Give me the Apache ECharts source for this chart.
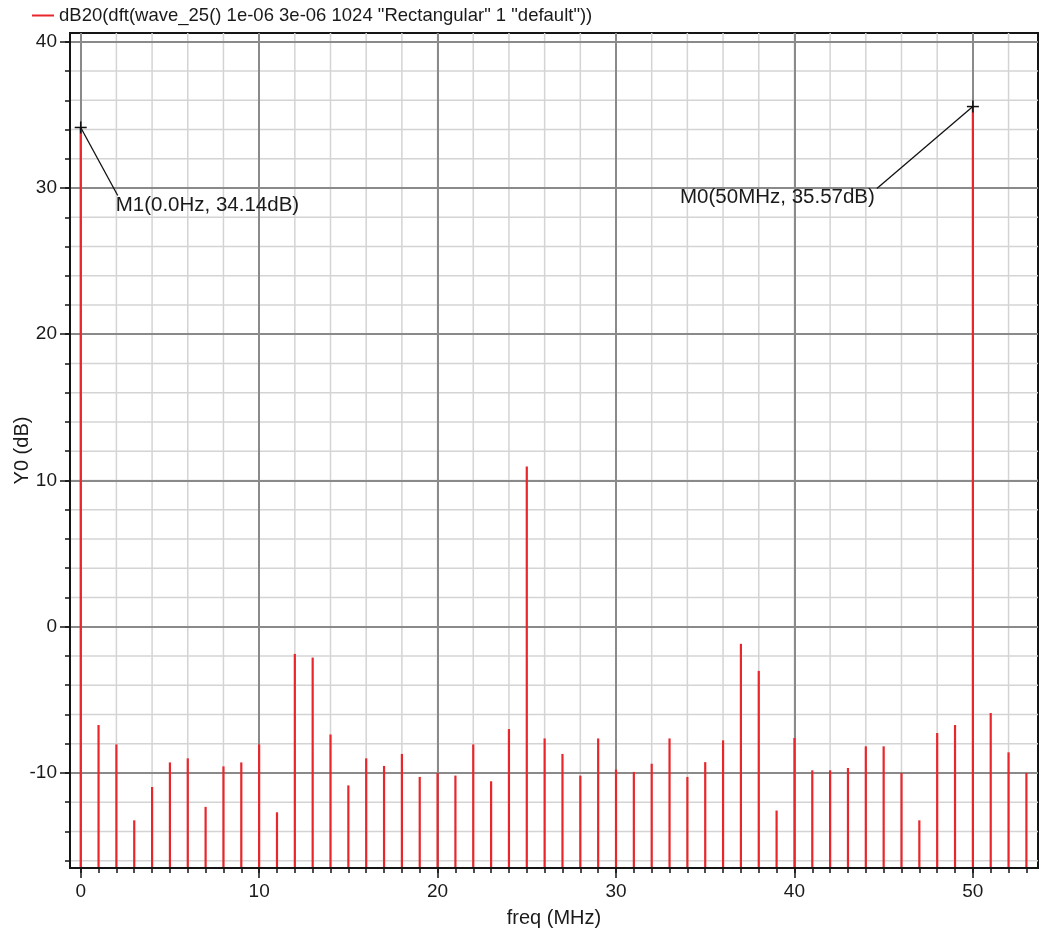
<!DOCTYPE html>
<html>
<head>
<meta charset="utf-8">
<script src="https://cdn.jsdelivr.net/npm/echarts@6/dist/echarts.min.js"></script>
<style>
  html, body { margin: 0; padding: 0; background: #ffffff; }
  #chart { width: 1042px; height: 934px; }
</style>
</head>
<body>
<div id="chart"></div>
<script>
// DFT of wave_25: one magnitude (dB) per 1 MHz bin
const freqMHz = [
  0, 1, 2, 3, 4, 5, 6, 7, 8, 9,
  10, 11, 12, 13, 14, 15, 16, 17, 18, 19,
  20, 21, 22, 23, 24, 25, 26, 27, 28, 29,
  30, 31, 32, 33, 34, 35, 36, 37, 38, 39,
  40, 41, 42, 43, 44, 45, 46, 47, 48, 49,
  50, 51, 52, 53
];
const magDB = [
  34.14, -6.72, -8.05, -13.24, -10.96, -9.28, -9.00, -12.32, -9.55, -9.28,
  -8.05, -12.69, -1.86, -2.11, -7.37, -10.85, -9.00, -9.52, -8.70, -10.27,
  -10.00, -10.18, -8.05, -10.57, -7.00, 10.95, -7.64, -8.70, -10.18, -7.64,
  -9.77, -9.93, -9.37, -7.64, -10.27, -9.26, -7.77, -1.17, -3.02, -12.57,
  -7.61, -9.82, -9.82, -9.66, -8.18, -8.18, -10.00, -13.24, -7.27, -6.72,
  35.57, -5.90, -8.59, -10.00
];
const seriesName = 'dB20(dft(wave_25() 1e-06 3e-06 1024 "Rectangular" 1 "default"))';

// Axis ticks and grid lines
const xLabelTicks = [0, 10, 20, 30, 40, 50];
const xSmallTicks = [
  0, 1, 2, 3, 4, 5, 6, 7, 8, 9, 10, 11, 12, 13, 14, 15, 16, 17, 18, 19, 20,
  21, 22, 23, 24, 25, 26, 27, 28, 29, 30, 31, 32, 33, 34, 35, 36, 37, 38, 39, 40,
  41, 42, 43, 44, 45, 46, 47, 48, 49, 50, 51, 52, 53
];
const xMinorGrid = [0, 2, 4, 6, 8, 10, 12, 14, 16, 18, 20, 22, 24, 26, 28, 30,
  32, 34, 36, 38, 40, 42, 44, 46, 48, 50, 52];
const yLabelTicks = [-10, 0, 10, 20, 30, 40];
const ySmallTicks = [-16, -14, -12, -10, -8, -6, -4, -2, 0, 2, 4, 6, 8, 10, 12, 14,
  16, 18, 20, 22, 24, 26, 28, 30, 32, 34, 36, 38, 40];

// Markers placed on spectrum bins
const markerNames = ['M1', 'M0'];
const markerBins = [0, 50];
const markerFreqText = ['0.0Hz', '50MHz'];

// Axis ranges
const xMin = -0.6, xMax = 53.65;
const yMin = -16.5, yMax = 40.6;

// Callout geometry (pixel offsets from the marker point)
const calloutLayout = [
  { dx: 37, dy: 68, tx: -2, ty: 10, align: 'left' },
  { dx: -96, dy: 82, tx: -2, ty: 9, align: 'right' }
];

const FONT = '"Liberation Sans", Arial, Helvetica, sans-serif';
const TEXT_COLOR = '#1a1a1a';
const FRAME = '#151515';
const MINOR_GRID = '#d4d4d4';
const MAJOR_GRID = '#8a8a8a';

const barData = freqMHz.map((f, i) => [f, magDB[i]]);
const markerData = markerBins.map(b => [freqMHz[b], magDB[b]]);

function xAxisBase(extra) {
  return Object.assign({
    type: 'value', min: xMin, max: xMax, position: 'bottom',
    axisLine: { show: false, onZero: false }, axisTick: { show: false },
    axisLabel: { show: false }, splitLine: { show: false }
  }, extra);
}
function yAxisBase(extra) {
  return Object.assign({
    type: 'value', min: yMin, max: yMax, position: 'left',
    axisLine: { show: false, onZero: false }, axisTick: { show: false },
    axisLabel: { show: false }, splitLine: { show: false }
  }, extra);
}

const chart = echarts.init(document.getElementById('chart'), null, { renderer: 'canvas' });

chart.setOption({
  animation: false,
  backgroundColor: '#ffffff',
  textStyle: { fontFamily: FONT },
  legend: {
    left: 32, top: 6, padding: 0,
    icon: 'rect', itemWidth: 22, itemHeight: 2, itemGap: 10,
    data: [seriesName],
    textStyle: { fontSize: 18.5, color: TEXT_COLOR, fontFamily: FONT },
    selectedMode: false
  },
  grid: {
    left: 70, right: 4, top: 33, bottom: 66,
    show: true, borderColor: FRAME, borderWidth: 2,
    backgroundColor: 'transparent',
    outerBoundsMode: 'none', containLabel: false
  },
  xAxis: [
    // main axis: line, 1 MHz ticks, labels, name
    xAxisBase({
      z: 3,
      axisLine: { show: true, onZero: false, lineStyle: { color: FRAME, width: 2 } },
      axisTick: { show: true, customValues: xSmallTicks, length: 5, lineStyle: { color: FRAME, width: 1.5 } },
      axisLabel: { show: true, customValues: xLabelTicks, margin: 14, fontSize: 19, color: TEXT_COLOR, fontFamily: FONT },
      name: 'freq (MHz)', nameLocation: 'middle', nameGap: 40, nameMoveOverlap: false,
      nameTextStyle: { fontSize: 20, color: TEXT_COLOR, fontFamily: FONT }
    }),
    // major grid every 10 MHz with longer ticks
    xAxisBase({
      z: 1,
      axisTick: { show: true, customValues: xLabelTicks, length: 10, lineStyle: { color: FRAME, width: 1.5 } },
      splitLine: { show: true, lineStyle: { color: MAJOR_GRID, width: 2 } }
    })
  ],
  yAxis: [
    yAxisBase({
      z: 3,
      axisLine: { show: true, onZero: false, lineStyle: { color: FRAME, width: 2 } },
      axisTick: { show: true, customValues: ySmallTicks, length: 5, lineStyle: { color: FRAME, width: 1.5 } },
      axisLabel: { show: true, customValues: yLabelTicks, margin: 13, fontSize: 19, color: TEXT_COLOR, fontFamily: FONT },
      name: 'Y0 (dB)', nameLocation: 'middle', nameGap: 38, nameMoveOverlap: false,
      nameTextStyle: { fontSize: 20, color: TEXT_COLOR, fontFamily: FONT }
    }),
    yAxisBase({
      z: 1,
      axisTick: { show: true, customValues: yLabelTicks, length: 10, lineStyle: { color: FRAME, width: 1.5 } },
      splitLine: { show: true, lineStyle: { color: MAJOR_GRID, width: 2 } }
    })
  ],
  series: [
    // light grid, vertical lines every 2 MHz
    {
      name: 'minor-x', type: 'custom', silent: true, z: 0.5, clip: true,
      xAxisIndex: 0, yAxisIndex: 0, encode: { x: 0, y: 1 },
      data: xMinorGrid.map(v => [v, yMin]),
      renderItem: function (params, api) {
        const cs = params.coordSys;
        const px = api.coord([api.value(0), yMin])[0];
        return { type: 'line', shape: { x1: px, y1: cs.y, x2: px, y2: cs.y + cs.height },
                 style: { stroke: MINOR_GRID, lineWidth: 1.5 } };
      }
    },
    // light grid, horizontal lines every 2 dB
    {
      name: 'minor-y', type: 'custom', silent: true, z: 0.5, clip: true,
      xAxisIndex: 0, yAxisIndex: 0, encode: { x: 0, y: 1 },
      data: ySmallTicks.map(v => [xMin, v]),
      renderItem: function (params, api) {
        const cs = params.coordSys;
        const py = api.coord([xMin, api.value(1)])[1];
        return { type: 'line', shape: { x1: cs.x, y1: py, x2: cs.x + cs.width, y2: py },
                 style: { stroke: MINOR_GRID, lineWidth: 1.5 } };
      }
    },
    {
      name: seriesName,
      type: 'custom',
      xAxisIndex: 0, yAxisIndex: 0,
      z: 2,
      clip: true,
      itemStyle: { color: '#e8262b' },
      encode: { x: 0, y: 1 },
      data: barData,
      renderItem: function (params, api) {
        const x = api.value(0);
        const top = api.coord([x, api.value(1)]);
        const base = api.coord([x, yMin]);
        return {
          type: 'line',
          shape: { x1: top[0], y1: top[1], x2: base[0], y2: base[1] },
          style: { stroke: api.visual('color'), lineWidth: 2.2 }
        };
      }
    },
    {
      name: 'markers',
      type: 'custom',
      xAxisIndex: 0, yAxisIndex: 0,
      z: 5,
      clip: false,
      encode: { x: 0, y: 1 },
      data: markerData,
      renderItem: function (params, api) {
        const i = params.dataIndex;
        const v = api.value(1);
        const p = api.coord([api.value(0), v]);
        const L = calloutLayout[i];
        const e = [p[0] + L.dx, p[1] + L.dy];
        const s = 6;
        const ink = { stroke: '#111111', lineWidth: 1.5 };
        return {
          type: 'group',
          children: [
            { type: 'line', shape: { x1: p[0] - s, y1: p[1], x2: p[0] + s, y2: p[1] }, style: ink },
            { type: 'line', shape: { x1: p[0], y1: p[1] - s, x2: p[0], y2: p[1] + s }, style: ink },
            { type: 'line', shape: { x1: p[0], y1: p[1], x2: e[0], y2: e[1] }, style: { stroke: '#111111', lineWidth: 1.3 } },
            {
              type: 'text', x: e[0] + L.tx, y: e[1] + L.ty,
              style: {
                text: markerNames[i] + '(' + markerFreqText[i] + ', ' + v.toFixed(2) + 'dB)',
                fill: TEXT_COLOR, fontSize: 20.5, fontFamily: FONT,
                align: L.align, verticalAlign: 'middle'
              }
            }
          ]
        };
      }
    }
  ]
});
</script>
</body>
</html>
